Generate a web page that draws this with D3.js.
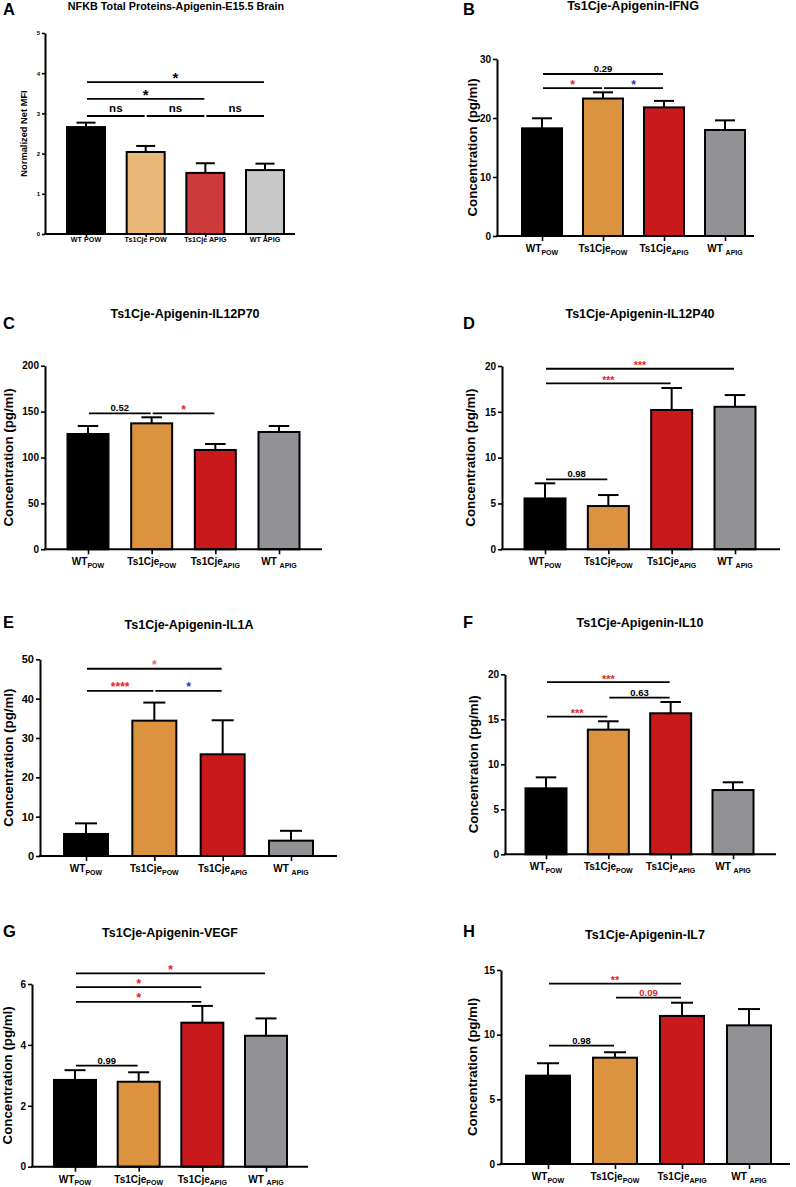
<!DOCTYPE html>
<html><head><meta charset="utf-8">
<script src="https://cdn.jsdelivr.net/npm/d3@7"></script>
<style>
body{margin:0;background:#fff}
text{font-family:"Liberation Sans",Arial,sans-serif;font-weight:bold;fill:#000}
</style>
</head><body>
<svg id="chart" width="796" height="1187" xmlns="http://www.w3.org/2000/svg"></svg>
<script>
// ---------------- DATA ----------------
const groups = ["WT POW", "Ts1Cje POW", "Ts1Cje APIG", "WT APIG"];
const labelMain = ["WT", "Ts1Cje", "Ts1Cje", "WT "];
const labelSub = ["POW", "POW", "APIG", "APIG"];

const colorsA = ["#000000", "#e8b878", "#cc3a3a", "#c8c8c8"];
const colorsMain = ["#000000", "#db9340", "#c9191c", "#929196"];

const nfkbMean = [2.66, 2.04, 1.52, 1.59];
const nfkbErr = [0.11, 0.15, 0.24, 0.16];
const nfkbTicks = [0, 1, 2, 3, 4, 5];

const ifngMean = [18.25, 23.3, 21.8, 17.97];
const ifngErr = [1.7, 1.05, 1.1, 1.63];
const ifngTicks = [0, 10, 20, 30];

const il12p70Mean = [125.6, 137.2, 108.2, 127.8];
const il12p70Err = [8.7, 6.6, 6.5, 6.5];
const il12p70Ticks = [0, 50, 100, 150, 200];

const il12p40Mean = [5.55, 4.72, 15.2, 15.55];
const il12p40Err = [1.65, 1.2, 2.4, 1.28];
const il12p40Ticks = [0, 5, 10, 15, 20];

const il1aMean = [5.6, 34.4, 25.85, 3.9];
const il1aErr = [2.7, 4.6, 8.65, 2.5];
const il1aTicks = [0, 10, 20, 30, 40, 50];

const il10Mean = [7.33, 13.85, 15.67, 7.14];
const il10Err = [1.22, 0.93, 1.25, 0.86];
const il10Ticks = [0, 5, 10, 15, 20];

const vegfMean = [2.85, 2.79, 4.73, 4.3];
const vegfErr = [0.32, 0.31, 0.55, 0.57];
const vegfTicks = [0, 2, 4, 6];

const il7Mean = [6.83, 8.22, 11.45, 10.72];
const il7Err = [0.96, 0.42, 1.02, 1.26];
const il7Ticks = [0, 5, 10, 15];

// significance brackets: [fromIndex, toIndex, level (data units), label, colour]
const nfkbSig = [[0, 1, 2.935, "ns", "#000"], [1, 2, 2.935, "ns", "#000"], [2, 3, 2.935, "ns", "#000"],
                 [0, 2, 3.36, "*", "#000"], [0, 3, 3.78, "*", "#000"]];
const ifngSig = [[0, 2, 27.46, "0.29", "#000"], [0, 1, 25.08, "*", "#e3262d"], [1, 2, 25.08, "*", "#2a2ae6"]];
const il12p70Sig = [[0, 1, 148.1, "0.52", "#000"], [1, 2, 148.1, "*", "#e3262d"]];
const il12p40Sig = [[0, 3, 19.7, "***", "#e3262d"], [0, 2, 18.1, "***", "#e3262d"], [0, 1, 7.63, "0.98", "#000"]];
const il1aSig = [[0, 2, 47.6, "*", "#e06a6a"], [0, 1, 41.95, "****", "#e3262d"], [1, 2, 41.95, "*", "#2a2ae6"]];
const il10Sig = [[0, 2, 19.14, "***", "#e3262d"], [1, 2, 17.4, "0.63", "#000"], [0, 1, 15.29, "***", "#e3262d"]];
const vegfSig = [[0, 3, 6.35, "*", "#e3262d"], [0, 2, 5.9, "*", "#e3262d"], [0, 2, 5.41, "*", "#e3262d"], [0, 1, 3.32, "0.99", "#000"]];
const il7Sig = [[0, 2, 13.94, "**", "#e3262d"], [1, 2, 12.86, "0.09", "#e3262d"], [0, 1, 9.15, "0.98", "#000"]];

// ---------------- LAYOUT ----------------
const panels = [
  {letter: "A", lx: 3, ly: 15, title: "NFKB Total Proteins-Apigenin-E15.5 Brain", tx: 176, ty: 10, tsize: 10.8,
   mean: nfkbMean, err: nfkbErr, ticks: nfkbTicks, sig: nfkbSig, colors: colorsA,
   axisX: 45, yTop: 33, y0: 234, xRight: 295, c0: 86, c1: 265, barW: 38,
   ylabel: "Normalized Net MFI", ylx: 24, ylsize: 9.3, tickSize: 6, small: true, starSize: 15},
  {letter: "B", lx: 463, ly: 15, title: "Ts1Cje-Apigenin-IFNG", tx: 633, ty: 10, tsize: 12.5,
   mean: ifngMean, err: ifngErr, ticks: ifngTicks, sig: ifngSig, colors: colorsMain,
   axisX: 497, yTop: 59, y0: 236, xRight: 754, c0: 542, c1: 725, barW: 40,
   ylabel: "Concentration (pg/ml)", ylx: 472, ylsize: 13.3, tickSize: 10, starSize: 12},
  {letter: "C", lx: 3, ly: 329, title: "Ts1Cje-Apigenin-IL12P70", tx: 185, ty: 318, tsize: 12.5,
   mean: il12p70Mean, err: il12p70Err, ticks: il12p70Ticks, sig: il12p70Sig, colors: colorsMain,
   axisX: 45, yTop: 365.7, y0: 549.3, xRight: 322, c0: 88, c1: 279, barW: 41,
   ylabel: "Concentration (pg/ml)", ylx: 8, ylsize: 13.3, tickSize: 10, starSize: 12},
  {letter: "D", lx: 463, ly: 329, title: "Ts1Cje-Apigenin-IL12P40", tx: 640, ty: 318, tsize: 12.5,
   mean: il12p40Mean, err: il12p40Err, ticks: il12p40Ticks, sig: il12p40Sig, colors: colorsMain,
   axisX: 502, yTop: 366, y0: 549.3, xRight: 780, c0: 545, c1: 735, barW: 41,
   ylabel: "Concentration (pg/ml)", ylx: 470, ylsize: 13.3, tickSize: 10, starSize: 10.5},
  {letter: "E", lx: 3, ly: 628, title: "Ts1Cje-Apigenin-IL1A", tx: 189, ty: 629, tsize: 12.5,
   mean: il1aMean, err: il1aErr, ticks: il1aTicks, sig: il1aSig, colors: colorsMain,
   axisX: 40, yTop: 659.3, y0: 856, xRight: 337, c0: 86, c1: 291, barW: 44,
   ylabel: "Concentration (pg/ml)", ylx: 8, ylsize: 13.3, tickSize: 11, starSize: 12},
  {letter: "F", lx: 463, ly: 628, title: "Ts1Cje-Apigenin-IL10", tx: 640, ty: 627, tsize: 12.5,
   mean: il10Mean, err: il10Err, ticks: il10Ticks, sig: il10Sig, colors: colorsMain,
   axisX: 505, yTop: 674.3, y0: 854.3, xRight: 776, c0: 546, c1: 733, barW: 41,
   ylabel: "Concentration (pg/ml)", ylx: 473, ylsize: 13.3, tickSize: 10, starSize: 11},
  {letter: "G", lx: 3, ly: 937, title: "Ts1Cje-Apigenin-VEGF", tx: 170, ty: 937, tsize: 12.5,
   mean: vegfMean, err: vegfErr, ticks: vegfTicks, sig: vegfSig, colors: colorsMain,
   axisX: 32, yTop: 984, y0: 1166.7, xRight: 308, c0: 75, c1: 266, barW: 42,
   ylabel: "Concentration (pg/ml)", ylx: 7, ylsize: 13.3, tickSize: 10, starSize: 13},
  {letter: "H", lx: 463, ly: 937, title: "Ts1Cje-Apigenin-IL7", tx: 645, ty: 939, tsize: 12.5,
   mean: il7Mean, err: il7Err, ticks: il7Ticks, sig: il7Sig, colors: colorsMain,
   axisX: 501, yTop: 970, y0: 1164, xRight: 790, c0: 548, c1: 749, barW: 44,
   ylabel: "Concentration (pg/ml)", ylx: 472, ylsize: 13.3, tickSize: 10, starSize: 11}
];

const svg = d3.select("#chart");

panels.forEach(p => {
  const g = svg.append("g");
  const yMax = d3.max(p.ticks);
  const y = d3.scaleLinear().domain([0, yMax]).range([p.y0, p.yTop]);
  const x = d3.scalePoint().domain(groups).range([p.c0, p.c1]);
  const rows = groups.map((k, i) => ({k, i, m: p.mean[i], e: p.err[i], c: p.colors[i]}));

  // panel letter + title
  g.append("text").attr("x", p.lx).attr("y", p.ly).attr("font-size", 16.5).text(p.letter);
  g.append("text").attr("x", p.tx).attr("y", p.ty).attr("text-anchor", "middle")
    .attr("font-size", p.tsize).text(p.title);

  // error bars (drawn before bars so the lower half is hidden)
  const capW = p.barW / 2;
  const eb = g.append("g").attr("stroke", "#000").attr("stroke-width", 2);
  eb.selectAll("line.v").data(rows).join("line").attr("class", "v")
    .attr("x1", d => x(d.k)).attr("x2", d => x(d.k))
    .attr("y1", d => y(d.m)).attr("y2", d => y(d.m + d.e));
  eb.selectAll("line.c").data(rows).join("line").attr("class", "c")
    .attr("x1", d => x(d.k) - capW / 2).attr("x2", d => x(d.k) + capW / 2)
    .attr("y1", d => y(d.m + d.e)).attr("y2", d => y(d.m + d.e));

  // bars
  g.selectAll("rect.bar").data(rows).join("rect").attr("class", "bar")
    .attr("x", d => x(d.k) - p.barW / 2).attr("width", p.barW)
    .attr("y", d => y(d.m)).attr("height", d => p.y0 - y(d.m))
    .attr("fill", d => d.c).attr("stroke", "#000").attr("stroke-width", 2);

  // y axis
  const ya = g.append("g").attr("transform", `translate(${p.axisX},0)`)
    .call(d3.axisLeft(y).tickValues(p.ticks).tickSize(p.small ? 3 : 4).tickSizeOuter(0)
      .tickPadding(2).tickFormat(d3.format("d")));
  ya.select(".domain").attr("stroke-width", 2);
  ya.selectAll(".tick line").attr("stroke-width", 1.6);
  ya.selectAll(".tick text").attr("font-size", p.tickSize)
    .attr("font-family", '"Liberation Sans",Arial,sans-serif').attr("font-weight", "bold").attr("fill", "#000");

  // x axis line
  g.append("line").attr("x1", p.axisX - 1).attr("x2", p.xRight).attr("y1", p.y0).attr("y2", p.y0)
    .attr("stroke", "#000").attr("stroke-width", 2);
  const xa = g.append("g").attr("transform", `translate(0,${p.y0})`)
    .call(d3.axisBottom(x).tickSize(p.small ? 3 : 5).tickSizeOuter(0).tickFormat(""));
  xa.select(".domain").remove();
  xa.selectAll(".tick line").attr("stroke-width", 1.6);

  // x labels
  rows.forEach(d => {
    if (p.small) {
      g.append("text").attr("x", x(d.k)).attr("y", p.y0 + 7.8).attr("text-anchor", "middle")
        .attr("font-size", 7.2).text(d.k);
    } else {
      const t = g.append("text").attr("x", x(d.k)).attr("y", p.y0 + 16).attr("text-anchor", "middle")
        .style("white-space", "pre");
      t.append("tspan").attr("font-size", 10).text(labelMain[d.i]);
      t.append("tspan").attr("font-size", 7).attr("dy", 2.5).text(labelSub[d.i]);
    }
  });

  // y label
  g.append("text").attr("transform", `translate(${p.ylx},${(p.y0 + p.yTop) / 2}) rotate(-90)`)
    .attr("text-anchor", "middle").attr("dy", "0.35em").attr("font-size", p.ylsize).text(p.ylabel);

  // significance brackets
  p.sig.forEach(s => {
    const ly = y(s[2]);
    const x1 = x(groups[s[0]]) + 1, x2 = x(groups[s[1]]) - 1;
    g.append("line").attr("x1", x1).attr("x2", x2).attr("y1", ly).attr("y2", ly)
      .attr("stroke", "#000").attr("stroke-width", 1.8);
    const isStar = /^\*+$/.test(s[3]);
    const isNs = s[3] === "ns";
    let fs, by;
    if (isStar) { fs = p.starSize; by = ly + (p.small ? 1 : 0.5); }
    else if (isNs) { fs = 11.5; by = ly - 4.5; }
    else { fs = 9.5; by = ly - 2; }
    g.append("text").attr("x", (x1 + x2) / 2).attr("y", by).attr("text-anchor", "middle")
      .attr("font-size", fs).style("fill", s[4]).text(s[3]);
  });
});
</script>
</body></html>
